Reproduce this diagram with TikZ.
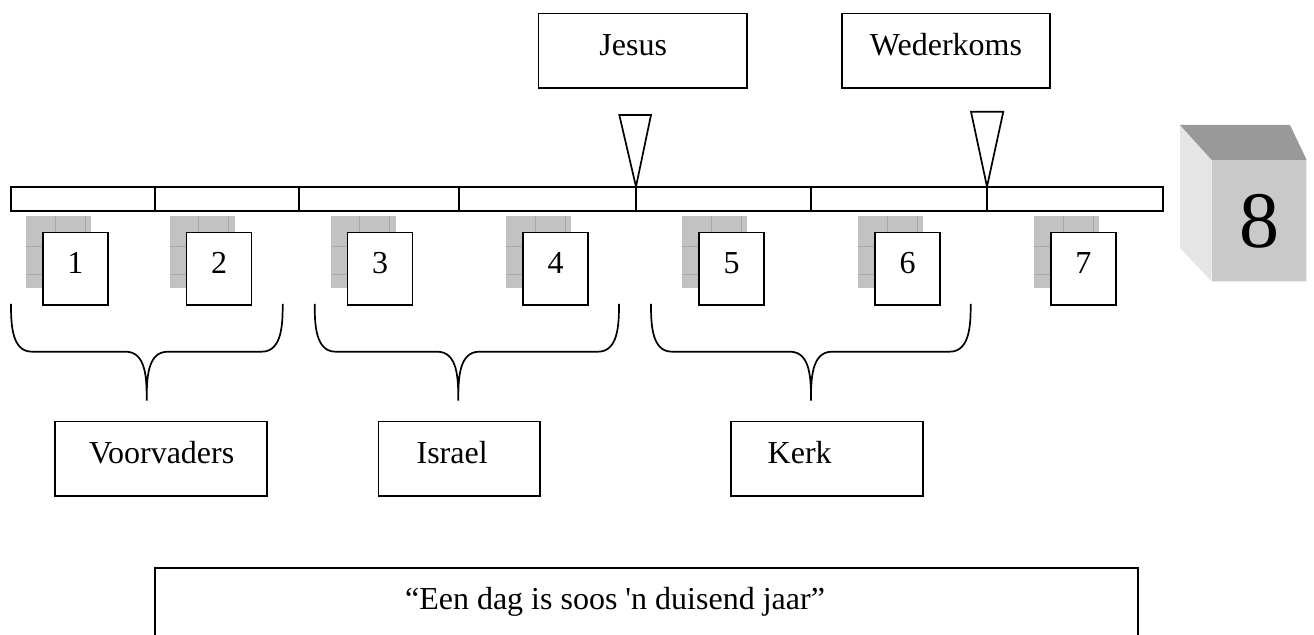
\documentclass[tikz,border=0pt]{standalone}
\usepackage{fontspec}
\setmainfont[Ligatures=TeXOff]{Liberation Serif}
\usetikzlibrary{positioning}

\definecolor{shadowfill}{gray}{0.76}
\definecolor{shadowline}{gray}{0.66}
\definecolor{cubefront}{gray}{0.79}
\definecolor{cubetop}{gray}{0.6}
\definecolor{cubeside}{gray}{0.9}

\begin{document}
\begin{tikzpicture}[x=0.5pt, y=-0.5pt,
    txtbox/.style={draw, line width=0.85pt, fill=white, minimum width=#1,
      minimum height=37.4pt, inner ysep=0pt, inner xsep=0pt, text height=11pt, text depth=6pt,
      font=\fontsize{16}{19}\selectfont},
    padded/.style 2 args={align=left, inner xsep=#1, text width=#2},
    numbox/.style={draw, line width=0.85pt, fill=white, anchor=north west,
      minimum width=32.5pt, minimum height=36.3pt, inner sep=0pt,
      text height=11pt, text depth=6pt, font=\fontsize{16}{19}\selectfont},
    numshadow/.style={fill=shadowfill},
    bracket/.style={line width=0.85pt},
    pointer/.style={draw, line width=0.85pt, fill=white}]
  \useasboundingbox (0,0) rectangle (1314,635);
  \clip (0,0) rectangle (1314,635);

  % time line
  \draw[line width=0.85pt] (11,186.7) rectangle (1163,210.7);
  \foreach \x in {155, 299, 459, 636, 811, 987}
    \draw[line width=0.85pt] (\x,186.7) -- (\x,210.7);

  % the two events above the line
  \node[txtbox=104.3pt, padded={30.5pt}{43.3pt}] (jesus) at (642.7,50.9) {Jesus};
  \node[txtbox=104pt] (wederkoms) at (946,50.9) {Wederkoms};

  \coordinate (jtip) at (636,186.7);
  \coordinate (wtip) at (987,186.7);
  \draw[pointer] (619.3,115) -- (651,115) -- (jtip) -- cycle;
  \draw[pointer] (971,111.7) -- (1003.3,111.7) -- (wtip) -- cycle;

  % the seven days
  \foreach \x/\n in {42/1, 185.7/2, 346.7/3, 522.3/4, 698.3/5, 874.3/6, 1050/7} {
    \fill[numshadow] (\x-16,216) rectangle (\x+49,288.3);
    \foreach \d in {29, 59}
      \draw[shadowline, line width=0.4pt] (\x-16+\d,216) -- (\x-16+\d,288.3);
    \foreach \d in {30, 58}
      \draw[shadowline, line width=0.4pt] (\x-16,216+\d) -- (\x+49,216+\d);
    \node[numbox] (day\n) at (\x,231.7) {\n};
  }

  % day eight
  \fill[cubeside] (1180,125) -- (1211.7,160) -- (1211.7,281.7) -- (1180,248) -- cycle;
  \fill[cubetop] (1180,125) -- (1290,125) -- (1306.7,160) -- (1211.7,160) -- cycle;
  \node[fill=cubefront, anchor=north west, minimum width=47.5pt, minimum height=60.8pt,
    inner sep=0pt, font=\fontsize{40}{48}\selectfont] (day8) at (1211.7,160) {8};
  \draw[white!85!gray, line width=0.6pt] (1306.7,160) -- (1306.7,281.7) -- (1211.7,281.7);

  % braces
  \foreach \a/\m/\b in {11/146.7/282.7, 314.7/458.3/619, 651/811/970.7}
    \draw[bracket] (\a,304) to[out=-90, in=180] (\a+21,351.7) -- (\m-21,351.7)
      to[out=0, in=90] (\m,400.7) to[out=90, in=180] (\m+21,351.7)
      -- (\b-21,351.7) to[out=0, in=-90] (\b,304);

  % the three periods
  \node[txtbox=105.8pt, padded={17pt}{71.8pt}] (voorvaders) at (160.9,458.8) {Voorvaders};
  \node[txtbox=80.7pt, padded={19pt}{42.7pt}] (israel) at (459.3,458.8) {Israel};
  \node[txtbox=96pt, padded={18.5pt}{59pt}] (kerk) at (826.7,458.8) {Kerk};

  % quotation
  \node[draw, line width=0.85pt, anchor=north west, minimum width=491.3pt,
    minimum height=60pt, inner sep=0pt] (quotebox) at (154.3,567.5) {};
  \node[font=\fontsize{16}{19}\selectfont, anchor=base] (quote) at (615,610)
    {“Een dag is soos 'n duisend jaar”};
\end{tikzpicture}
\end{document}
